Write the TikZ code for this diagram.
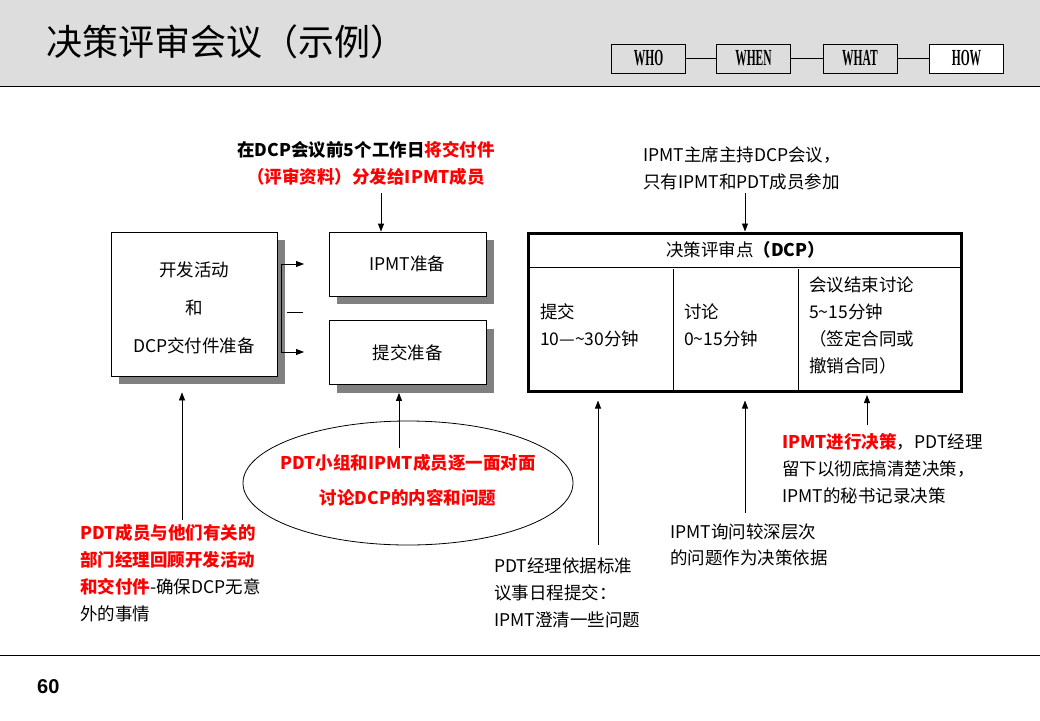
\documentclass[tikz,border=0pt]{standalone}
\usepackage{fontspec}
\usepackage{graphicx}
\setmainfont{Noto Sans CJK SC}
\newfontfamily\latinserif{Liberation Serif}
\newfontfamily\latinsans{Liberation Sans}
\usetikzlibrary{arrows.meta,shapes.geometric,shadows,calc}
\definecolor{hdr}{HTML}{DDDDDD}
\definecolor{shd}{HTML}{808080}
\definecolor{rd}{HTML}{FF0000}
\newcommand\bodyfont{\fontsize{17.5}{27}\selectfont}
\newcommand\tagtxt[1]{\scalebox{0.5}[1]{#1}}
\begin{document}
\begin{tikzpicture}[x=1pt,y=-1pt,
  txt/.style={font=\bodyfont, inner sep=0pt, align=left},
  box/.style={draw, line width=0.8pt, fill=white, inner sep=0pt, font=\bodyfont,
    drop shadow={shadow xshift=8pt,shadow yshift=-8pt,fill=shd,opacity=1}},
  arr/.style={-{Triangle[length=8pt,width=6pt]}, line width=0.8pt},
  tagbox/.style={draw, line width=0.8pt, minimum width=74pt, minimum height=29pt, inner sep=0pt,
    fill=hdr, font=\latinserif\bfseries\fontsize{23}{23}\selectfont},
  redb/.style={text=rd, font=\bodyfont\bfseries}
]
\useasboundingbox (0,0) rectangle (1040,720);
% header
\fill[hdr] (0,0) rectangle (1040,86);
\draw[line width=1.5pt] (0,86.5) -- (1040,86.5);
\node[anchor=west, inner sep=0pt, font=\fontsize{36}{36}\selectfont] (title) at (46,42) {决策评审会议（示例）};
\node[tagbox] (who) at (648.5,58.5) {\tagtxt{WHO}};
\node[tagbox] (when) at (753.5,58.5) {\tagtxt{WHEN}};
\node[tagbox] (what) at (860,58.5) {\tagtxt{WHAT}};
\node[tagbox, fill=white] (how) at (966.5,58.5) {\tagtxt{HOW}};
\draw[line width=0.8pt] (who) -- (when);
\draw[line width=0.8pt] (when) -- (what);
\draw[line width=0.8pt] (what) -- (how);
% footer
\draw[line width=1pt] (0,655.5) -- (1040,655.5);
\node[anchor=west, inner sep=0pt, font=\latinsans\bfseries\fontsize{20}{20}\selectfont] (pg) at (37,687) {60};

% left boxes
\node[box, minimum width=166pt, minimum height=144pt] (dev) at (194,304) {};
\node[txt, align=center, font=\fontsize{17.5}{38}\selectfont] (devt) at (194,308) {开发活动\\和\\DCP交付件准备};
\node[box, minimum width=157pt, minimum height=64pt] (ipmt) at (407.5,264) {IPMT准备};
\node[box, minimum width=157pt, minimum height=64pt] (sub) at (407.5,352.5) {提交准备};

% splitter
\coordinate (j1) at (281,264);
\coordinate (j2) at (281,352);
\coordinate (t1) at (304,264);
\coordinate (t2) at (304,352);
\coordinate (m1) at (287,312);
\coordinate (m2) at (303,312);
\draw[line width=0.8pt] (j1) -- (j2);
\draw[arr] (j1) -- (t1);
\draw[arr] (j2) -- (t2);
\draw[line width=0.8pt] (m1) -- (m2);

% note 1
\node[txt, align=center, font=\bodyfont\bfseries] (n1) at (366,163.5) {在DCP会议前5个工作日\textcolor{rd}{将交付件}\\\textcolor{rd}{（评审资料）分发给IPMT成员}};
\coordinate (a1) at (381,193);
\draw[arr] (a1) -- (a1 |- ipmt.north);

% DCP table
\node[draw, line width=3pt, minimum width=433pt, minimum height=158pt, inner sep=0pt] (dcp) at (745.25,312) {};
\draw[line width=1.2pt] ($(dcp.north west)+(0,36)$) -- ($(dcp.north east)+(0,36)$);
\coordinate (v1) at (673,269);
\coordinate (v2) at (798,269);
\draw[line width=0.9pt] (v1) -- (v1 |- dcp.south);
\draw[line width=0.9pt] (v2) -- (v2 |- dcp.south);
\node[txt] (dcph) at (745.5,250) {决策评审点\textbf{（DCP）}};
\node[txt, anchor=west] (c1) at (540,325.5) {提交\\10—\textasciitilde30分钟};
\node[txt, anchor=west] (c2) at (684,325.5) {讨论\\0\textasciitilde15分钟};
\node[txt, anchor=west] (c3) at (809,325.5) {会议结束讨论\\5\textasciitilde15分钟\\（签定合同或\\撤销合同）};

% note 2
\node[txt, anchor=west] (n2) at (643,168) {IPMT主席主持DCP会议，\\只有IPMT和PDT成员参加};
\coordinate (a2) at (745,193);
\draw[arr] (a2) -- (a2 |- dcp.north);

% bottom left note
\node[txt, anchor=west] (n3) at (80,573.5) {\textcolor{rd}{\bfseries PDT成员与他们有关的}\\\textcolor{rd}{\bfseries 部门经理回顾开发活动}\\\textcolor{rd}{\bfseries 和交付件}-确保DCP无意\\外的事情};
\coordinate (a3) at (182,520);
\draw[arr, shorten >=16pt] (a3) -- (a3 |- dev.south);

% ellipse
\node[draw, ellipse, line width=0.8pt, minimum width=330pt, minimum height=124pt] (ell) at (408,483) {};
\node[txt, align=center, text=rd, font=\fontsize{17.5}{35}\selectfont\bfseries] (ellt) at (408,480.5) {PDT小组和IPMT成员逐一面对面\\讨论DCP的内容和问题};
\coordinate (a4) at (399,448);
\draw[arr, shorten >=8pt] (a4) -- (a4 |- sub.south);

% note 4
\node[txt, anchor=west] (n4) at (494,593) {PDT经理依据标准\\议事日程提交：\\IPMT澄清一些问题};
\coordinate (a5) at (598,545);
\draw[arr, shorten >=8pt] (a5) -- (a5 |- dcp.south);

% note 5
\node[txt, anchor=west, font=\fontsize{17.5}{26}\selectfont] (n5) at (670,545) {IPMT询问较深层次\\的问题作为决策依据};
\coordinate (a6) at (745,513);
\draw[arr, shorten >=8pt] (a6) -- (a6 |- dcp.south);

% note 6
\node[txt, anchor=west] (n6) at (782,469) {\textcolor{rd}{\bfseries IPMT进行决策}，PDT经理\\留下以彻底搞清楚决策，\\IPMT的秘书记录决策};
\coordinate (a7) at (867,425);
\draw[arr, shorten >=2.5pt] (a7) -- (a7 |- dcp.south);
\end{tikzpicture}
\end{document}
